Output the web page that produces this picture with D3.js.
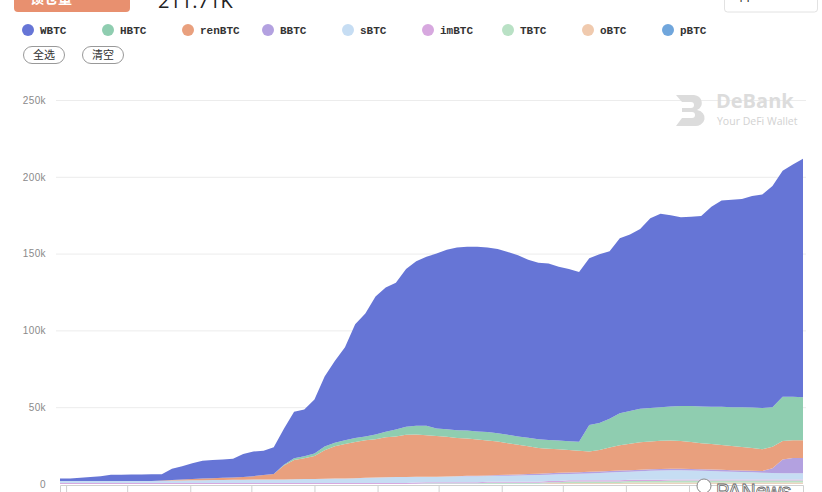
<!DOCTYPE html>
<html>
<head>
<meta charset="utf-8">
<script src="https://cdn.jsdelivr.net/npm/d3@7"></script>
<style>
  body { margin: 0; background: #fff; }
  svg { display: block; }
  .grid line { stroke: #ececec; }
  .axis text { fill: #8a8a8a; font-family: "Liberation Sans", sans-serif; font-size: 10px; letter-spacing: 0.4px; }
</style>
</head>
<body>
<svg id="chart" width="822" height="492"></svg>
<script>
// thousands of BTC, one point every 5 days from 2020-03-29
var startDate = new Date(2020, 2, 29);
var stepDays = 5;

var keys = ["WBTC", "HBTC", "renBTC", "BBTC", "sBTC", "imBTC", "TBTC", "oBTC", "pBTC"];
var colors = ["#6675d6", "#8fcdb0", "#e9a07e", "#b3a1e0", "#c6ddf3", "#d7a8df", "#b9e1c5", "#f0caae", "#70a6dc"];

var WBTC = [1.5, 1.6, 2.0, 2.5, 3.0, 4.0, 4.1, 4.2, 4.2, 4.3, 4.2, 7.4, 8.6, 10.3, 11.7, 11.8, 12.0, 12.2, 14.9, 16.1,
  15.8, 17.5, 23.5, 30.2, 30.5, 35.2, 45.6, 53.2, 60.5, 74.0, 80.0, 89.8, 94.0, 95.5, 102.7, 107.0, 110.0, 113.9, 116.8, 119.0,
  119.7, 120.3, 120.2, 120.0, 119.0, 118.0, 115.9, 114.9, 114.8, 113.1, 112.1, 110.5, 108.6, 109.8, 109.0, 114.0, 115.0, 117.0, 123.5, 126.0,
  124.5, 122.8, 123.2, 124.0, 130.2, 134.2, 135.0, 135.5, 137.7, 139.0, 144.0, 147.2, 151.2, 155.2];
var HBTC = [0, 0, 0, 0, 0, 0, 0, 0, 0, 0, 0, 0, 0, 0, 0, 0, 0, 0, 0, 0,
  0, 0, 0.5, 1.2, 1.3, 1.5, 2.5, 2.3, 2.4, 2.7, 2.5, 3.0, 3.6, 4.5, 5.2, 5.8, 6.2, 4.8, 5.0, 5.0,
  5.2, 5.3, 5.4, 5.4, 5.5, 5.5, 5.6, 5.6, 5.7, 5.8, 5.8, 5.8, 17.2, 17.5, 18.8, 20.7, 21.3, 21.9, 21.9, 21.8,
  22.2, 22.8, 23.4, 23.9, 24.3, 24.9, 25.2, 25.9, 26.4, 26.8, 25.8, 28.8, 28.3, 28.0];
var renBTC = [0, 0, 0, 0, 0, 0, 0, 0, 0, 0, 0.2, 0.4, 0.6, 0.8, 1.0, 1.2, 1.4, 1.6, 1.8, 2.2,
  2.8, 3.5, 9.0, 12.5, 13.5, 15.0, 18.5, 21.0, 22.5, 23.5, 24.5, 25.0, 26.0, 26.5, 27.5, 27.5, 27.0, 26.5, 25.8, 25.0,
  24.3, 23.5, 22.8, 21.8, 20.5, 19.3, 18.0, 16.8, 16.0, 15.3, 14.6, 14.0, 13.3, 14.0, 15.2, 16.5, 17.2, 17.8, 18.0, 18.4,
  18.3, 18.0, 17.6, 17.0, 16.6, 16.2, 15.8, 15.3, 14.8, 14.3, 14.0, 12.0, 11.5, 11.5];
var BBTC = [0, 0, 0, 0, 0, 0, 0, 0, 0, 0, 0, 0, 0, 0, 0, 0, 0, 0, 0, 0,
  0, 0, 0, 0, 0, 0, 0, 0, 0, 0, 0, 0, 0, 0, 0, 0, 0, 0, 0, 0,
  0.3, 0.3, 0.4, 0.5, 0.6, 0.7, 0.8, 0.8, 0.9, 1.0, 1.0, 1.0, 1.0, 1.0, 1.0, 1.0, 1.0, 1.0, 1.0, 1.0,
  1.0, 1.0, 1.0, 1.0, 1.0, 1.0, 1.0, 1.0, 1.0, 1.0, 3.0, 9.0, 10.0, 10.0];
var sBTC = [1.4, 1.4, 1.4, 1.4, 1.4, 1.4, 1.4, 1.4, 1.4, 1.4, 1.4, 1.6, 1.7, 1.8, 1.9, 2.0, 2.0, 2.1, 2.2, 2.3,
  2.4, 2.4, 2.4, 2.5, 2.6, 2.7, 2.8, 2.9, 3.0, 3.2, 3.3, 3.5, 3.7, 3.8, 3.9, 3.8, 3.6, 3.6, 3.7, 3.8,
  3.8, 3.9, 3.7, 3.8, 3.9, 4.0, 4.2, 4.4, 4.2, 4.4, 4.1, 4.3, 4.5, 4.8, 5.1, 5.4, 5.3, 5.6, 5.9, 6.1,
  6.0, 6.0, 5.8, 5.6, 5.4, 5.2, 5.0, 4.8, 4.6, 4.4, 4.2, 4.0, 4.0, 4.0];
var imBTC = [0.6, 0.6, 0.6, 0.6, 0.6, 0.6, 0.6, 0.6, 0.6, 0.6, 0.6, 0.6, 0.6, 0.6, 0.6, 0.6, 0.6, 0.6, 0.6, 0.6,
  0.6, 0.6, 0.6, 0.6, 0.6, 0.6, 0.6, 0.6, 0.6, 0.6, 0.7, 0.7, 0.7, 0.7, 0.7, 0.7, 0.7, 0.7, 0.7, 0.7,
  0.7, 0.7, 0.7, 0.7, 0.7, 0.7, 0.7, 0.7, 0.7, 0.7, 0.8, 0.8, 0.8, 0.8, 0.8, 0.8, 0.8, 0.8, 0.8, 0.8,
  0.8, 0.8, 0.8, 0.8, 0.8, 0.8, 0.8, 0.8, 0.8, 0.8, 0.8, 0.8, 0.8, 0.8];
var TBTC = [0, 0, 0, 0, 0, 0, 0, 0, 0, 0, 0, 0, 0, 0, 0, 0, 0, 0, 0, 0,
  0, 0, 0, 0, 0, 0, 0, 0, 0, 0, 0, 0, 0, 0, 0, 0, 0.3, 0.3, 0.3, 0.3,
  0.3, 0.3, 0.6, 0.6, 0.6, 0.6, 0.6, 0.6, 0.6, 0.6, 1.0, 1.0, 1.0, 1.0, 1.0, 1.0, 1.0, 1.0, 1.0, 1.0,
  1.3, 1.3, 1.3, 1.3, 1.3, 1.3, 1.3, 1.3, 1.3, 1.3, 1.3, 1.3, 1.3, 1.3];
var oBTC = [0, 0, 0, 0, 0, 0, 0, 0, 0, 0, 0, 0, 0, 0, 0, 0, 0, 0, 0, 0,
  0, 0, 0, 0, 0, 0, 0, 0, 0, 0, 0, 0, 0, 0, 0, 0, 0, 0, 0, 0,
  0, 0, 0, 0, 0, 0, 0, 0, 0.4, 0.4, 0.4, 0.4, 0.4, 0.4, 0.4, 0.4, 0.7, 0.7, 0.7, 0.7,
  0.7, 0.7, 0.7, 0.7, 0.7, 0.7, 0.7, 0.7, 0.7, 0.7, 0.7, 0.7, 0.7, 0.7];
var pBTC = [0, 0, 0, 0, 0, 0, 0, 0, 0, 0, 0, 0, 0, 0, 0, 0, 0, 0, 0, 0,
  0, 0, 0, 0, 0, 0, 0, 0, 0, 0, 0, 0, 0, 0, 0, 0.2, 0.2, 0.2, 0.2, 0.2,
  0.2, 0.2, 0.2, 0.2, 0.2, 0.2, 0.2, 0.2, 0.2, 0.2, 0.2, 0.2, 0.2, 0.2, 0.2, 0.2, 0.2, 0.2, 0.2, 0.2,
  0.2, 0.2, 0.2, 0.2, 0.2, 0.2, 0.2, 0.2, 0.2, 0.2, 0.2, 0.2, 0.2, 0.2];

var yTicks = [0, 50, 100, 150, 200, 250];
var totalLabel = "211.71K";

var series = { WBTC: WBTC, HBTC: HBTC, renBTC: renBTC, BBTC: BBTC, sBTC: sBTC, imBTC: imBTC, TBTC: TBTC, oBTC: oBTC, pBTC: pBTC };
var rows = WBTC.map(function (v, i) {
  var r = { date: d3.timeDay.offset(startDate, i * stepDays) };
  keys.forEach(function (k) { r[k] = series[k][i]; });
  return r;
});

var color = d3.scaleOrdinal().domain(keys).range(colors);
var svg = d3.select("#chart");

var x = d3.scaleTime()
  .domain([rows[0].date, rows[rows.length - 1].date])
  .range([60, 803]);
var y = d3.scaleLinear().domain([0, 250]).range([484, 100]);

// header bits, cut off at the top of the screenshot
svg.append("rect").attr("x", 14).attr("y", -12).attr("width", 116).attr("height", 24)
  .attr("rx", 4).attr("fill", "#e8906f");
svg.append("text").attr("x", 30).attr("y", 3).attr("fill", "#fff")
  .style("font", "bold 14px 'Noto Sans CJK SC'").text("锁仓量");
svg.append("text").attr("x", 158).attr("y", 8).attr("fill", "#222")
  .style("font", "20px 'Open Sans', sans-serif").text(totalLabel);
svg.append("rect").attr("x", 724.5).attr("y", -8).attr("width", 93).attr("height", 20)
  .attr("rx", 3).attr("fill", "#fff").attr("stroke", "#e2e2e2");
svg.append("text").attr("x", 737).attr("y", 2).attr("fill", "#333")
  .style("font", "13px 'Open Sans', sans-serif").text("1Y");

// legend
var legend = svg.append("g").selectAll("g").data(keys).enter().append("g")
  .attr("transform", function (d, i) { return "translate(" + (28 + i * 80) + ",30)"; });
legend.append("circle").attr("r", 6).attr("fill", function (d) { return color(d); });
legend.append("text").attr("x", 12).attr("y", 4)
  .style("font", "bold 11px 'Liberation Mono', monospace").attr("fill", "#333")
  .text(function (d) { return d; });

["全选", "清空"].forEach(function (t, i) {
  var bx = 23 + i * 59;
  svg.append("rect").attr("x", bx + 0.5).attr("y", 46.5).attr("width", 41).attr("height", 17)
    .attr("rx", 8.5).attr("fill", "#fff").attr("stroke", "#999");
  svg.append("text").attr("x", bx + 21).attr("y", 59).attr("text-anchor", "middle")
    .style("font", "11px 'Noto Sans CJK SC'").attr("fill", "#333").text(t);
});

// grid + y labels
var yAxis = svg.append("g").attr("class", "axis grid")
  .attr("transform", "translate(56,0)")
  .call(d3.axisLeft(y).tickValues(yTicks).tickSize(-750)
    .tickFormat(function (d) { return d === 0 ? "0" : d + "k"; }));
yAxis.select(".domain").remove();
yAxis.selectAll("text").attr("x", -10).attr("dy", "0.32em");
yAxis.selectAll("line").filter(function (d) { return d === 0; }).remove();

// DeBank watermark
var wm = svg.append("g").attr("fill", "#dcdcdc");
wm.append("path").attr("d", "M676,95 h18 a9,8 0 0 1 3,15 a9,8 0 0 1 -3,16 h-18 l6,-8 h10 a3,3 0 0 0 0,-6 h-10 v-4 h9 a3,3 0 0 0 0,-6 h-9 z");
wm.append("text").attr("x", 716).attr("y", 108).style("font", "bold 20px 'Open Sans', sans-serif").text("DeBank");
wm.append("text").attr("x", 717).attr("y", 125).style("font", "10.5px 'Open Sans', sans-serif").attr("fill", "#d2d2d2").text("Your DeFi Wallet");

// stacked areas, bottom layer is the last key
var stack = d3.stack().keys(keys.slice().reverse());
var layers = stack(rows);
var area = d3.area()
  .x(function (d) { return x(d.data.date); })
  .y0(function (d) { return y(d[0]); })
  .y1(function (d) { return y(d[1]); });

svg.append("g").selectAll("path").data(layers).enter().append("path")
  .attr("fill", function (d) { return color(d.key); })
  .attr("d", area);

// x axis; its labels sit below the crop, so only the ticks are drawn
var xAxis = svg.append("g").attr("class", "axis")
  .attr("transform", "translate(0,485)")
  .call(d3.axisBottom(x).ticks(d3.timeMonth.every(1)).tickSize(7).tickFormat(""));
xAxis.select(".domain").attr("stroke", "#d0d0d0");
xAxis.selectAll("line").attr("stroke", "#d0d0d0");

// PANews watermark
svg.append("circle").attr("cx", 704).attr("cy", 486).attr("r", 7)
  .attr("fill", "#fff").attr("stroke", "#888").attr("stroke-width", 1);
svg.append("text").attr("x", 716).attr("y", 498).attr("fill", "#fff").attr("stroke", "#666")
  .attr("stroke-width", 0.8).style("font", "20px 'Liberation Sans', sans-serif").text("PANews");
</script>
</body>
</html>
